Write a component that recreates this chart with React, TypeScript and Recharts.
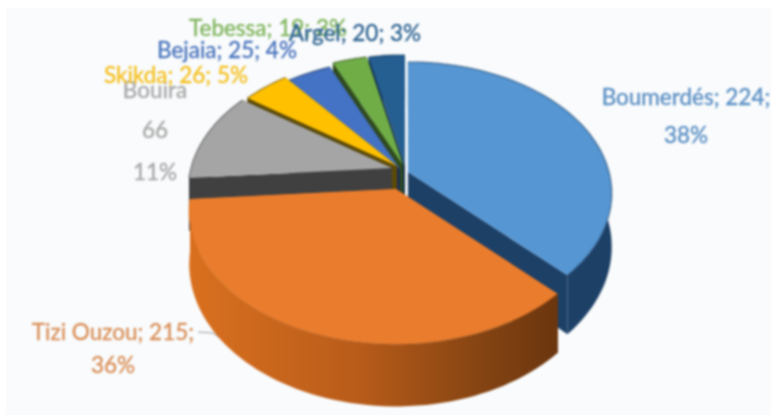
import React from 'react';
import { Pie, PieChart } from 'recharts';

// drawing order goes counter-clockwise from Boumerdés so Tizi Ouzou lands on top
const cities = ['Boumerdés', 'Argel', 'Tebessa', 'Bejaia', 'Skikda', 'Bouira', 'Tizi Ouzou'];
const counts = [224, 20, 19, 25, 26, 66, 215];
const percents = ['38%', '3%', '3%', '4%', '5%', '11%', '36%'];

const topColors = ['#5596d3', '#255e91', '#70ad47', '#4472c4', '#ffc000', '#a5a5a5', '#ea7d2d'];
const sideColors = ['#1d4067', '#143250', '#2f4a1e', '#1c2f55', '#5c4a08', '#404040', 'url(#orangeSide)'];
const textColors = ['#5b8fc4', '#2f6391', '#7fb45c', '#4a74bd', '#f5c020', '#a8a8a8', '#d98f58'];

// slice explosion, px from the pie centre
const offsetX = [8, 5, 3, 0, -3, -8, -4];
const offsetY = [2, -5, -5, -1, -4, -2, 19];
const radiusScale = [1, 1, 1, 1, 1, 1, 1.015];

// labels, in paint order (index into cities)
const labelOrder = [6, 0, 5, 4, 3, 2, 1];
const labelX = [96, 686, 155, 176, 227, 268, 355];
const labelY = [340, 105, 98, 83, 58, 36, 41];

const TILT = 0.637;
const PERSP = 0.163;
const DEPTH = 52;

const point = (deg: number, ax: number, ay: number, r: number, z: number) => {
  const a = (deg * Math.PI) / 180;
  const u = Math.cos(a);
  const v = Math.sin(a);
  const s = 1 / (1 + PERSP * v);
  return [ax + r * u * s, ay - r * TILT * v * s + z * s];
};

const SliceShape = (props: any) => {
  const { cx, cy, outerRadius, startAngle, endAngle, index } = props;
  const ax = cx + offsetX[index];
  const ay = cy + offsetY[index];
  const r = outerRadius * radiusScale[index];
  const top: number[][] = [];
  const bottom: number[][] = [];
  const steps = Math.max(4, Math.ceil(Math.abs(endAngle - startAngle) / 2));
  for (let i = 0; i <= steps; i++) {
    const deg = startAngle + ((endAngle - startAngle) * i) / steps;
    top.push(point(deg, ax, ay, r, 0));
    bottom.push(point(deg, ax, ay, r, DEPTH));
  }
  const line = (pts: number[][]) => pts.map((p) => `${p[0].toFixed(1)} ${p[1].toFixed(1)}`).join(' L');
  const cuts = [top[0], top[steps]].map(
    (p, i) => `M${ax} ${ay} L${p[0]} ${p[1]} L${(i ? bottom[steps] : bottom[0]).join(' ')} L${ax} ${ay + DEPTH} Z`,
  );
  return (
    <g>
      <path d={cuts.join(' ')} fill={sideColors[index]} />
      <path d={`M${line(top)} L${line([...bottom].reverse())} Z`} fill={sideColors[index]} />
      <path d={`M${ax} ${ay} L${line(top)} Z`} fill={topColors[index]} />
      <path d={`M${line(top)}`} fill="none" stroke={sideColors[index]} strokeOpacity={0.45} strokeWidth={1.5} />
    </g>
  );
};

const renderLabel = (props: any) => {
  const i = labelOrder[props.index];
  const pos = props.index;
  const common = {
    fill: textColors[i],
    stroke: textColors[i],
    strokeWidth: 0.35,
    fontFamily: 'Lato, sans-serif',
    fontSize: 22.5,
    textAnchor: 'middle' as const,
  };
  const x = labelX[pos];
  const y = labelY[pos];
  if (cities[i] === 'Bouira') {
    return (
      <text {...common}>
        <tspan x={x} y={y}>{cities[i]}</tspan>
        <tspan x={x} y={y + 40}>{counts[i]}</tspan>
        <tspan x={x} y={y + 82}>{percents[i]}</tspan>
      </text>
    );
  }
  if (cities[i] === 'Tizi Ouzou' || cities[i] === 'Boumerdés') {
    return (
      <text {...common}>
        <tspan x={x + (i === 6 ? 17 : 0)} y={y}>{`${cities[i]}; ${counts[i]};`}</tspan>
        <tspan x={i === 6 ? 113 : x} y={i === 6 ? y + 33 : y + 38}>{percents[i]}</tspan>
      </text>
    );
  }
  return (
    <text {...common} x={x} y={y}>
      {`${cities[i]}; ${counts[i]}; ${percents[i]}`}
    </text>
  );
};

const sliceData = cities.map((name, i) => ({ name, value: counts[i] }));
const labelData = labelOrder.map((i) => ({ name: cities[i], value: counts[i] }));

const App = () => (
  <div style={{ position: 'absolute', left: 0, top: 0, width: 771, height: 415, background: '#fff' }}>
    <div style={{ position: 'absolute', left: 6, top: 8, width: 765, height: 407, background: '#f9fbfc' }} />
    <div style={{ position: 'absolute', left: 0, top: 0, filter: 'blur(0.8px)' }}>
      <PieChart width={771} height={415} margin={{ top: 0, right: 0, bottom: 0, left: 0 }}>
        <defs>
          <linearGradient id="orangeSide" gradientUnits="userSpaceOnUse" x1="190" y1="0" x2="560" y2="0">
            <stop offset="0" stopColor="#d9701f" />
            <stop offset="0.45" stopColor="#b95c1a" />
            <stop offset="0.8" stopColor="#834312" />
            <stop offset="1" stopColor="#6a350e" />
          </linearGradient>
        </defs>
        <Pie
          data={sliceData}
          dataKey="value"
          nameKey="name"
          cx={400}
          cy={170}
          innerRadius={0}
          outerRadius={201}
          startAngle={-45.5}
          endAngle={314.5}
          paddingAngle={0}
          stroke="none"
          shape={SliceShape}
          isAnimationActive={false}
        />
        <Pie
          data={labelData}
          dataKey="value"
          cx={400}
          cy={170}
          outerRadius={201}
          fill="none"
          stroke="none"
          shape={() => null}
          label={renderLabel}
          labelLine={false}
          isAnimationActive={false}
        />
        <polyline points="198,332 213,333 224,341" fill="none" stroke="#9a9a9a" strokeWidth={1} />
      </PieChart>
    </div>
  </div>
);

export default App;
